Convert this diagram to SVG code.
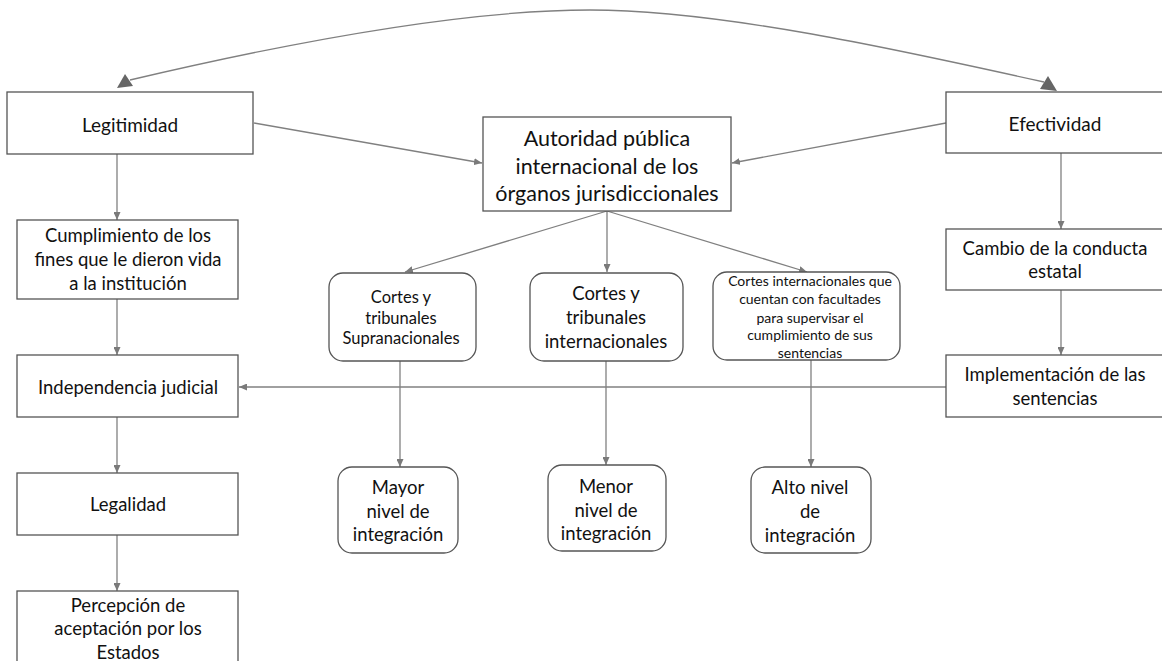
<svg xmlns="http://www.w3.org/2000/svg" width="1162" height="661" viewBox="0 0 1162 661">
<style>
.box{fill:#fff;stroke:#555;stroke-width:1.3}
.t{font-family:Lato,"Liberation Sans",sans-serif;fill:#111;text-anchor:middle;dominant-baseline:central}
.c{fill:none;stroke:#808080;stroke-width:1.3}
.big{fill:#666;stroke:none}
</style>
<defs>
<marker id="a" markerWidth="8" markerHeight="7" refX="8" refY="3.5" orient="auto" markerUnits="userSpaceOnUse">
<path d="M0,0 L8,3.5 L0,7 z" fill="#7a7a7a"/>
</marker>
</defs>
<rect width="1162" height="661" fill="#fff"/>
<g id="connectors">
<path class="c" d="M130,80 C300,40 470,10 590,10 C720,10 900,50 1044,82"/>
<polygon class="big" points="117,88 125,74 133,86"/>
<polygon class="big" points="1057,91 1048,76 1040,89"/>
<line class="c" x1="117" y1="154" x2="117" y2="220" marker-end="url(#a)"/>
<line class="c" x1="117" y1="299" x2="117" y2="355" marker-end="url(#a)"/>
<line class="c" x1="117" y1="417" x2="117" y2="473" marker-end="url(#a)"/>
<line class="c" x1="117" y1="535" x2="117" y2="591" marker-end="url(#a)"/>
<line class="c" x1="254" y1="123" x2="482" y2="163" marker-end="url(#a)"/>
<line class="c" x1="946" y1="123" x2="732" y2="163" marker-end="url(#a)"/>
<line class="c" x1="607" y1="211" x2="405" y2="272" marker-end="url(#a)"/>
<line class="c" x1="607" y1="211" x2="607" y2="272" marker-end="url(#a)"/>
<line class="c" x1="607" y1="211" x2="807" y2="272" marker-end="url(#a)"/>
<line class="c" x1="400" y1="361" x2="400" y2="467" marker-end="url(#a)"/>
<line class="c" x1="606" y1="361" x2="606" y2="465" marker-end="url(#a)"/>
<line class="c" x1="811" y1="360" x2="811" y2="467" marker-end="url(#a)"/>
<line class="c" x1="1061" y1="153" x2="1061" y2="229" marker-end="url(#a)"/>
<line class="c" x1="1061" y1="290" x2="1061" y2="355" marker-end="url(#a)"/>
<line class="c" x1="946" y1="387" x2="239" y2="387" marker-end="url(#a)"/>
</g>
<g id="legitimidad">
<rect class="box" x="7" y="92" width="246" height="62"/>
<text class="t" x="130" y="124" font-size="19">Legitimidad</text>
</g>
<g id="efectividad">
<rect class="box" x="946" y="92" width="220" height="61"/>
<text class="t" x="1055" y="123" font-size="19">Efectividad</text>
</g>
<g id="autoridad">
<rect class="box" x="483" y="117" width="248" height="94"/>
<text class="t" x="607" y="138" font-size="21.5">Autoridad pública</text>
<text class="t" x="607" y="166" font-size="21.5">internacional de los</text>
<text class="t" x="607" y="193" font-size="21.5">órganos jurisdiccionales</text>
</g>
<g id="cumplimiento">
<rect class="box" x="17" y="220" width="221" height="79"/>
<text class="t" x="128" y="235" font-size="18.5">Cumplimiento de los</text>
<text class="t" x="128" y="259" font-size="18.5">fines que le dieron vida</text>
<text class="t" x="128" y="283" font-size="18.5">a la institución</text>
</g>
<g id="independencia">
<rect class="box" x="17" y="355" width="221" height="62"/>
<text class="t" x="128" y="387" font-size="18.5">Independencia judicial</text>
</g>
<g id="legalidad">
<rect class="box" x="17" y="473" width="221" height="62"/>
<text class="t" x="128" y="504" font-size="18.5">Legalidad</text>
</g>
<g id="percepcion">
<rect class="box" x="17" y="591" width="221" height="80"/>
<text class="t" x="128" y="605" font-size="18.5">Percepción de</text>
<text class="t" x="128" y="628" font-size="18.5">aceptación por los</text>
<text class="t" x="128" y="652" font-size="18.5">Estados</text>
</g>
<g id="supranacionales">
<rect class="box" x="329" y="273" width="147" height="88" rx="14"/>
<text class="t" x="401" y="297" font-size="16.5">Cortes y</text>
<text class="t" x="401" y="318" font-size="16.5">tribunales</text>
<text class="t" x="401" y="338" font-size="16.5">Supranacionales</text>
</g>
<g id="internacionales">
<rect class="box" x="530" y="273" width="153" height="88" rx="14"/>
<text class="t" x="606" y="293" font-size="18.5">Cortes y</text>
<text class="t" x="606" y="317" font-size="18.5">tribunales</text>
<text class="t" x="606" y="341" font-size="18.5">internacionales</text>
</g>
<g id="supervision">
<rect class="box" x="713" y="272" width="187" height="88" rx="14"/>
<text class="t" x="810" y="280" font-size="14">Cortes internacionales que</text>
<text class="t" x="810" y="298" font-size="14">cuentan con facultades</text>
<text class="t" x="810" y="317" font-size="14">para supervisar el</text>
<text class="t" x="810" y="334" font-size="14">cumplimiento de sus</text>
<text class="t" x="810" y="352" font-size="14">sentencias</text>
</g>
<g id="mayor">
<rect class="box" x="338" y="467" width="120" height="86" rx="14"/>
<text class="t" x="398" y="487" font-size="18.5">Mayor</text>
<text class="t" x="398" y="511" font-size="18.5">nivel de</text>
<text class="t" x="398" y="534" font-size="18.5">integración</text>
</g>
<g id="menor">
<rect class="box" x="548" y="465" width="118" height="86" rx="14"/>
<text class="t" x="606" y="486" font-size="18.5">Menor</text>
<text class="t" x="606" y="510" font-size="18.5">nivel de</text>
<text class="t" x="606" y="533" font-size="18.5">integración</text>
</g>
<g id="alto">
<rect class="box" x="751" y="467" width="120" height="86" rx="14"/>
<text class="t" x="810" y="487" font-size="18.5">Alto nivel</text>
<text class="t" x="810" y="511" font-size="18.5">de</text>
<text class="t" x="810" y="535" font-size="18.5">integración</text>
</g>
<g id="cambio">
<rect class="box" x="946" y="229" width="220" height="61"/>
<text class="t" x="1055" y="248" font-size="18.5">Cambio de la conducta</text>
<text class="t" x="1055" y="271" font-size="18.5">estatal</text>
</g>
<g id="implementacion">
<rect class="box" x="946" y="355" width="220" height="62"/>
<text class="t" x="1055" y="374" font-size="18.5">Implementación de las</text>
<text class="t" x="1055" y="398" font-size="18.5">sentencias</text>
</g>
</svg>
